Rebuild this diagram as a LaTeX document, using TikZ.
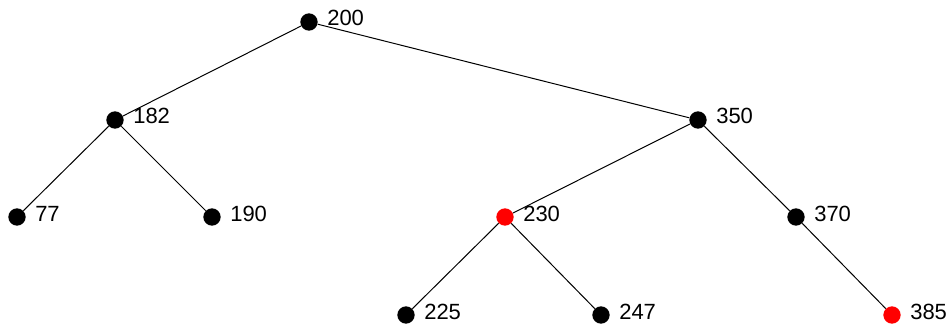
\documentclass[tikz,border=0pt]{standalone}
\usepackage{fontspec}
\setmainfont{Liberation Sans}
\usepackage{tikz}
\usetikzlibrary{positioning}
\usepackage{xcolor}
\definecolor{Ink}{HTML}{000000}
\definecolor{Hot}{HTML}{FF0000}
\tikzset{
  keydot/.style={circle, fill=#1, draw=none, inner sep=0pt, minimum size=13},
  keydot/.default={Ink},
  keylbl/.style={anchor=base west, inner sep=0pt, font=\fontsize{16.5}{18}\selectfont},
  treeedge/.style={draw=Ink, line width=0.75pt},
}

\begin{document}
\begin{tikzpicture}[x=0.75pt, y=-0.75pt]
  \useasboundingbox (0,0) rectangle (952,324);
  % dots
  \node[keydot] (n200) at (309,22) {};
  \node[keydot] (n182) at (115,120) {};
  \node[keydot] (n350) at (698,120) {};
  \node[keydot] (n77) at (17,217) {};
  \node[keydot] (n190) at (212,217) {};
  \node[keydot=Hot] (n230) at (505,217) {};
  \node[keydot] (n370) at (796,217) {};
  \node[keydot] (n225) at (406,315) {};
  \node[keydot] (n247) at (601,315) {};
  \node[keydot=Hot] (n385) at (892,315) {};
  % keys
  \foreach \k in {200,182,350,77,190,230,370,225,247,385}
    \node[keylbl] (l\k) at ([shift={(18,4)}]n\k.center) {\k};
  % links
  \draw[treeedge] (n200) -- (n182);
  \draw[treeedge] (n200) -- (n350);
  \draw[treeedge] (n182) -- (n77);
  \draw[treeedge] (n182) -- (n190);
  \draw[treeedge] (n350) -- (n230);
  \draw[treeedge] (n350) -- (n370);
  \draw[treeedge] (n230) -- (n225);
  \draw[treeedge] (n230) -- (n247);
  \draw[treeedge] (n370) -- (n385);
\end{tikzpicture}
\end{document}
